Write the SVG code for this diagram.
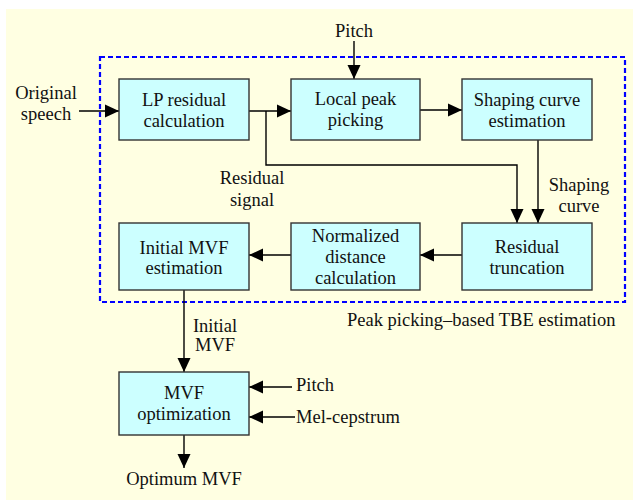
<svg xmlns="http://www.w3.org/2000/svg" width="633" height="500" viewBox="0 0 633 500">
<style>
  text { font-family: "Liberation Serif", "Times New Roman", Times, serif; font-size: 18.5px; fill: #111; }
  .c { text-anchor: middle; }
  .box { fill: #CCFFFF; stroke: #333; stroke-width: 1.4; }
  .ln { fill: none; stroke: #000; stroke-width: 1.4; }
</style>
<defs>
  <marker id="ah" markerUnits="userSpaceOnUse" markerWidth="14" markerHeight="14" viewBox="0 0 14 14" refX="14" refY="7" orient="auto">
    <path d="M0,0.5 L14,7 L0,13.5 Z" fill="#000"/>
  </marker>
</defs>
<rect x="6" y="9" width="627" height="491" fill="#FFFFE2"/>
<rect id="tbe-group" x="100" y="57" width="525" height="245" fill="none" stroke="#0000FF" stroke-width="2.2" stroke-dasharray="5,3"/>
<text x="347" y="326">Peak picking–based TBE estimation</text>

<g id="connectors">
  <line class="ln" x1="79" y1="111" x2="119" y2="111" marker-end="url(#ah)"/>
  <line class="ln" x1="249" y1="111" x2="291" y2="111" marker-end="url(#ah)"/>
  <polyline class="ln" points="266,111 266,165 517,165 517,223" marker-end="url(#ah)"/>
  <line class="ln" x1="354" y1="41" x2="354" y2="79" marker-end="url(#ah)"/>
  <line class="ln" x1="420" y1="110" x2="462" y2="110" marker-end="url(#ah)"/>
  <line class="ln" x1="538" y1="140" x2="538" y2="223" marker-end="url(#ah)"/>
  <line class="ln" x1="462" y1="255" x2="420" y2="255" marker-end="url(#ah)"/>
  <line class="ln" x1="291" y1="255" x2="249" y2="255" marker-end="url(#ah)"/>
  <line class="ln" x1="184" y1="290" x2="184" y2="372" marker-end="url(#ah)"/>
  <line class="ln" x1="292" y1="387" x2="249" y2="387" marker-end="url(#ah)"/>
  <line class="ln" x1="295" y1="417" x2="249" y2="417" marker-end="url(#ah)"/>
  <line class="ln" x1="184" y1="435" x2="184" y2="468" marker-end="url(#ah)"/>
</g>

<g id="labels">
  <text class="c" x="46" y="99">Original</text>
  <text class="c" x="46" y="120">speech</text>
  <text class="c" x="354" y="37">Pitch</text>
  <text class="c" x="252" y="184">Residual</text>
  <text class="c" x="252" y="205.5">signal</text>
  <text class="c" x="579" y="191">Shaping</text>
  <text class="c" x="579" y="211.5">curve</text>
  <text class="c" x="215" y="331.5">Initial</text>
  <text class="c" x="215" y="351">MVF</text>
  <text x="296" y="391">Pitch</text>
  <text x="296" y="423">Mel-cepstrum</text>
  <text class="c" x="184" y="485">Optimum MVF</text>
</g>

<g id="lp-residual">
  <rect class="box" x="119" y="79" width="130" height="61"/>
  <text class="c" x="184" y="105.5">LP residual</text>
  <text class="c" x="184" y="126.5">calculation</text>
</g>
<g id="local-peak">
  <rect class="box" x="291" y="79" width="129" height="61"/>
  <text class="c" x="355.5" y="105">Local peak</text>
  <text class="c" x="355.5" y="125.5">picking</text>
</g>
<g id="shaping-curve">
  <rect class="box" x="462" y="79" width="130" height="61"/>
  <text class="c" x="527" y="106">Shaping curve</text>
  <text class="c" x="527" y="126.5">estimation</text>
</g>
<g id="initial-mvf">
  <rect class="box" x="119" y="223" width="130" height="67"/>
  <text class="c" x="184" y="253.5">Initial MVF</text>
  <text class="c" x="184" y="273.5">estimation</text>
</g>
<g id="normalized-distance">
  <rect class="box" x="291" y="223" width="129" height="67"/>
  <text class="c" x="355.5" y="241.5">Normalized</text>
  <text class="c" x="355.5" y="262.5">distance</text>
  <text class="c" x="355.5" y="284">calculation</text>
</g>
<g id="residual-truncation">
  <rect class="box" x="462" y="223" width="130" height="67"/>
  <text class="c" x="527" y="252.5">Residual</text>
  <text class="c" x="527" y="273.5">truncation</text>
</g>
<g id="mvf-optimization">
  <rect class="box" x="119" y="372" width="130" height="63"/>
  <text class="c" x="184" y="398.5">MVF</text>
  <text class="c" x="184" y="419.5">optimization</text>
</g>
</svg>
